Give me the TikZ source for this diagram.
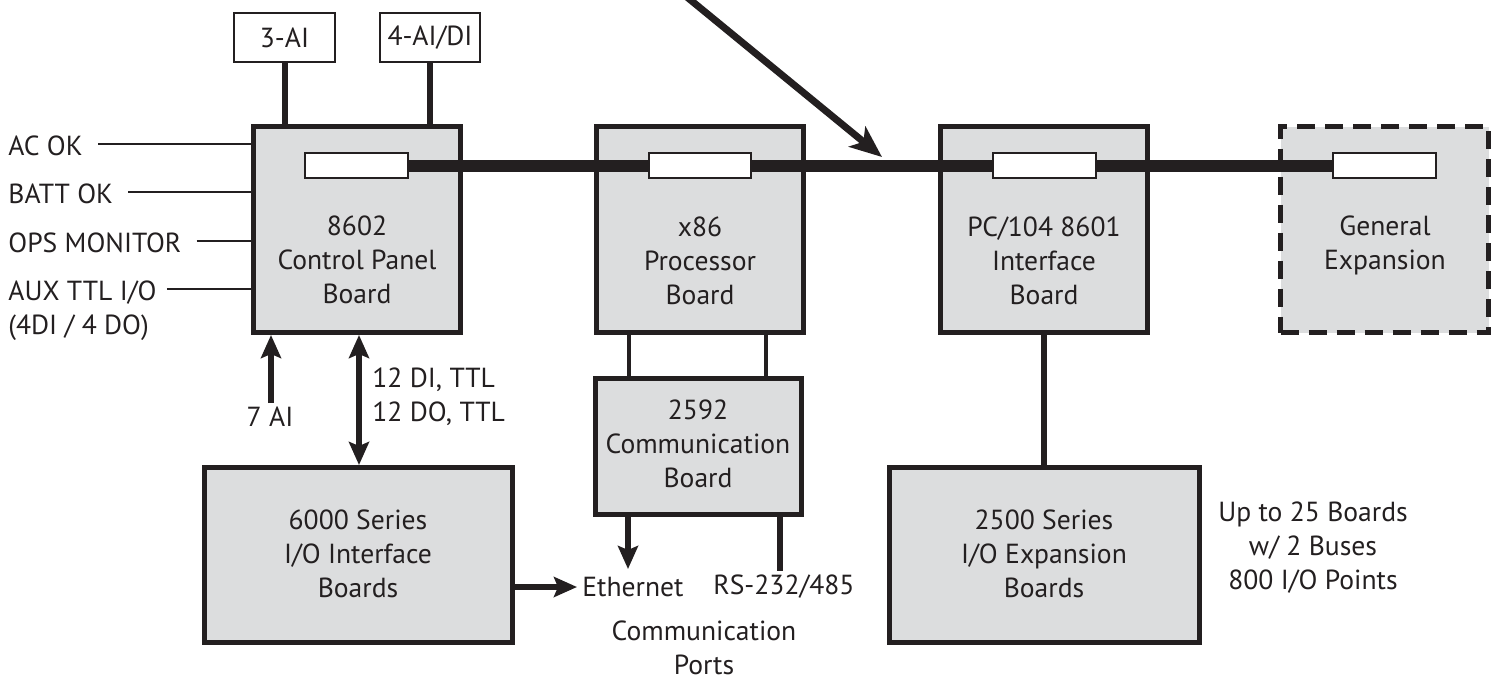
\documentclass[tikz,border=0pt]{standalone}
\usepackage{fontspec}
\setmainfont{PT Sans}
\usetikzlibrary{arrows.meta,fit,calc}
\pgfdeclarelayer{boards}
\pgfdeclarelayer{busl}
\pgfsetlayers{boards,busl,main}
\definecolor{ink}{HTML}{231F20}
\definecolor{boardgray}{HTML}{DCDDDE}
\begin{document}
\begin{tikzpicture}[x=0.5pt,y=-0.5pt,
  font=\fontsize{13.8}{17}\selectfont, text=ink,
  board/.style={draw=ink, fill=boardgray, line width=2.5pt, inner sep=0pt},
  dashboard/.style={board, dash pattern=on 9pt off 5pt},
  tag/.style={draw=ink, fill=white, line width=1.2pt, inner sep=0pt},
  slot/.style={draw=ink, fill=white, line width=1.2pt, inner sep=0pt},
  lbl/.style={inner sep=0pt, align=center},
  side/.style={inner sep=0pt, anchor=base west},
  wire/.style={draw=ink, line width=1.2pt},
  link/.style={draw=ink, line width=3pt},
  thinlink/.style={draw=ink, line width=2.3pt},
  bus/.style={draw=ink, line width=6pt},
  arr/.style={draw=ink, line width=3pt, -{Stealth[length=11.5pt,width=10pt,inset=2pt]}},
  darr/.style={draw=ink, line width=3pt, {Stealth[length=11.5pt,width=10pt,inset=2pt]}-{Stealth[length=11.5pt,width=10pt,inset=2pt]}},
  bigarr/.style={draw=ink, line width=3.5pt, -{Stealth[length=16pt,width=13pt,inset=4pt]}}
]
\useasboundingbox (0,0) rectangle (1499,681);
\clip (0,0) rectangle (1499,681);

% boards
\begin{pgfonlayer}{boards}
\node[board, fit={(253.5,126.5) (460.5,332.5)}] (cp) {};
\node[board, fit={(596.5,126.5) (803.5,332.5)}] (cpu) {};
\node[board, fit={(940.5,126.5) (1147.5,332.5)}] (pc) {};
\node[dashboard, fit={(1280.5,126.5) (1488.5,332.5)}] (gen) {};
\node[board, fit={(595.5,378.5) (801.5,514.5)}] (com) {};
\node[board, fit={(204.5,467.5) (512.5,642.5)}] (io6) {};
\node[board, fit={(889.5,467.5) (1199.5,642.5)}] (io25) {};
\end{pgfonlayer}

% slots
\node[slot, fit={(305,153) (408,178)}] (s1) {};
\node[slot, fit={(649,153) (751,178)}] (s2) {};
\node[slot, fit={(993,153) (1096,178)}] (s3) {};
\node[slot, fit={(1333,153) (1436,178)}] (s4) {};

% bus
\begin{pgfonlayer}{busl}
\draw[bus] (s1.east) -- (s4.west);
\end{pgfonlayer}

% top tags
\node[tag, fit={(234,13) (335,62)}] (ai3) {};
\node[tag, fit={(380,13) (480,62)}] (ai4) {};
\node[lbl] (tai3) at (ai3.center) {3-AI};
\node[lbl] (tai4) at (ai4.center) {4-AI/DI};
\draw[link] (ai3.south) -- (ai3.south |- cp.north);
\draw[link] (ai4.south) -- (ai4.south |- cp.north);

% board texts
\node[lbl] (tcp) at (357,260) {8602\\Control Panel\\Board};
\node[lbl] (tcpu) at (700,261) {x86\\Processor\\Board};
\node[lbl] (tpc) at (1044,261) {PC/104 8601\\Interface\\Board};
\node[lbl] (tgen) at (1385,245) {General\\Expansion};
\node[lbl] (tcom) at (698,444) {2592\\Communication\\Board};
\node[lbl] (tio6) at (358,554) {6000 Series\\I/O Interface\\Boards};
\node[lbl] (tio25) at (1044,554) {2500 Series\\I/O Expansion\\Boards};
\node[lbl] (notes) at (1313,548) {Up to 25 Boards\\w/ 2 Buses\\800 I/O Points};
\node[lbl] (ports) at (704,648) {Communication\\Ports};

% left side signals
\node[side] (acok) at (8,155) {AC OK};
\node[side] (batt) at (8,203) {BATT OK};
\node[side] (ops) at (8,252) {OPS MONITOR};
\node[side] (aux) at (8,300) {AUX TTL I/O};
\node[side] (aux2) at (8,334) {(4DI / 4 DO)};
\coordinate (w1) at (0,144);
\coordinate (w2) at (0,192);
\coordinate (w3) at (0,241);
\coordinate (w4) at (0,289);
\path ([xshift=7.5pt]acok.east) coordinate (a1);
\path ([xshift=7.5pt]batt.east) coordinate (a2);
\path ([xshift=7.5pt]ops.east) coordinate (a3);
\path ([xshift=5pt]aux.east) coordinate (a4);
\draw[wire] (a1 |- w1) -- (w1 -| cp.west);
\draw[wire] (a2 |- w2) -- (w2 -| cp.west);
\draw[wire] (a3 |- w3) -- (w3 -| cp.west);
\draw[wire] (a4 |- w4) -- (w4 -| cp.west);

% 8602 bottom connections
\node[inner sep=0pt] (ai7) at (270,417) {7 AI};
\coordinate (c6) at (271,403);
\draw[arr] (c6) -- (c6 |- cp.south);
\coordinate (c5) at (359,0);
\draw[darr] (c5 |- cp.south) -- (c5 |- io6.north);
\node[inner sep=0pt, anchor=west, align=left] (dio) at (372,397) {12 DI, TTL\\12 DO, TTL};

% processor to comm board
\coordinate (c1) at (629,0);
\coordinate (c2) at (766,0);
\draw[thinlink] (c1 |- cpu.south) -- (c1 |- com.north);
\draw[thinlink] (c2 |- cpu.south) -- (c2 |- com.north);

% comm ports
\node[inner sep=0pt, anchor=west] (eth) at (582,587) {Ethernet};
\node[inner sep=0pt, anchor=west] (rs) at (713,587) {RS-232/485};
\coordinate (c3) at (628,0);
\coordinate (ethtip) at (628,569);
\draw[arr] (c3 |- com.south) -- (ethtip);
\coordinate (c4) at (780,0);
\coordinate (rstop) at (780,571);
\draw[link] (c4 |- com.south) -- (rstop);
\draw[arr] (io6.east |- eth.west) -- ([xshift=-2.5pt]eth.west);

% PC/104 to 2500
\draw[link] (pc.south) -- (pc.south |- io25.north);

% big pointer arrow
\coordinate (bstart) at (671,-16);
\coordinate (btip) at (882,157);
\draw[bigarr] (bstart) -- (btip);
\end{tikzpicture}
\end{document}
